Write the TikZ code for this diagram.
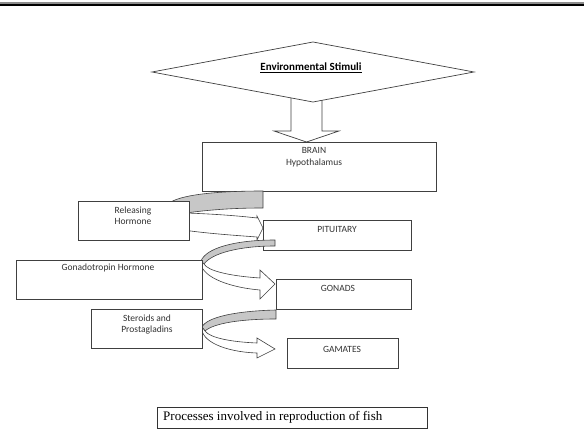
\documentclass[tikz,border=0pt]{standalone}
\usepackage{fontspec}
\setmainfont{Carlito}
\newfontfamily\capfont{Liberation Serif}
\begin{document}
\begin{tikzpicture}[x=1pt,y=-1pt,
  boxnode/.style={draw=black!75, line width=0.7pt, fill=white, inner sep=0pt, anchor=north west, rectangle},
  txt/.style={font=\fontsize{9.5}{11.5}\selectfont, text=black!80, inner sep=0pt, align=center},
  grayband/.style={draw=black!75, line width=0.6pt, fill=black!22},
  whiteband/.style={draw=black!75, line width=0.6pt, fill=white},
  outline/.style={draw=black!75, line width=0.7pt, fill=white}]
\useasboundingbox (0,0) rectangle (584,441);
% top rule
\fill[black!45] (0,2.5) rectangle (584,3.6);
\fill[black] (0,3.6) rectangle (584,6.5);
% block arrow down
\filldraw[outline] (291,95) -- (291,131) -- (274,131) -- (306.5,142) -- (339,131) -- (322,131) -- (322,95) -- cycle;
% diamond
\filldraw[outline] (152,72) -- (313,42) -- (474,72) -- (313,102) -- cycle;
\node[txt, font=\fontsize{11}{13}\selectfont\bfseries, text=black] (envT) at (311,68) {\underline{Environmental Stimuli}};
% boxes
\node[boxnode, minimum width=234pt, minimum height=49pt] (brain) at (202,142) {};
\node[txt] (brainT) at (314,157) {BRAIN\\Hypothalamus};
\node[boxnode, minimum width=148pt, minimum height=30pt] (pit) at (263,220) {};
\node[txt] (pitT) at (337,229.5) {PITUITARY};
\node[boxnode, minimum width=135pt, minimum height=30pt] (gonads) at (276,279) {};
\node[txt] (gonadsT) at (338,288.5) {GONADS};
\node[boxnode, minimum width=111pt, minimum height=30pt] (gam) at (287,338) {};
\node[txt] (gamT) at (342,349) {GAMATES};
% curved arrow 1 (releasing)
\filldraw[grayband] (263,191) .. controls (215,191) and (178,195) .. (168,204) -- (186,213) .. controls (215,209) and (240,208) .. (263,208) -- cycle;
\filldraw[whiteband] (186,213) .. controls (215,214) and (240,216) .. (257,218) -- (257,216) -- (263,228) -- (257,240) -- (257,237) .. controls (230,235) and (200,233) .. (170,228) -- cycle;
% curved arrow 2 (gonadotropin)
\filldraw[grayband] (275,240) .. controls (235,240) and (206,248) .. (201,261) -- (204,264) .. controls (212,253) and (240,246) .. (275,246) -- cycle;
\filldraw[whiteband] (201,261) .. controls (199,275) and (225,287) .. (260,290) -- (260,299) -- (275,284) -- (260,270) -- (260,278) .. controls (230,276) and (208,271) .. (204,264) -- cycle;
% curved arrow 3 (steroids)
\filldraw[grayband] (276,310) .. controls (236,311) and (207,317) .. (202,327) -- (205,331) .. controls (214,323) and (242,319) .. (276,319) -- cycle;
\filldraw[whiteband] (202,327) .. controls (200,341) and (225,352) .. (257,353) -- (257,358) -- (275,349) -- (257,338) -- (257,343) .. controls (232,342) and (210,338) .. (205,331) -- cycle;
% left boxes
\node[boxnode, minimum width=111pt, minimum height=39pt] (rel) at (78,201) {};
\node[txt] (relT) at (133,215.5) {Releasing\\Hormone};
\node[boxnode, minimum width=186pt, minimum height=39pt] (gon) at (16,260) {};
\node[txt] (gonT) at (108,268) {Gonadotropin Hormone};
\node[boxnode, minimum width=111pt, minimum height=39pt] (ster) at (91,309) {};
\node[txt] (sterT) at (147,324.5) {Steroids and\\Prostagladins};
% caption
\node[boxnode, draw=black!80, line width=0.6pt, minimum width=270pt, minimum height=21pt] (cap) at (157,407) {};
\node[anchor=west, inner sep=0pt, font=\capfont\fontsize{13}{15}\selectfont] (capT) at (163,417.5) {Processes involved in reproduction of fish};
\end{tikzpicture}
\end{document}
